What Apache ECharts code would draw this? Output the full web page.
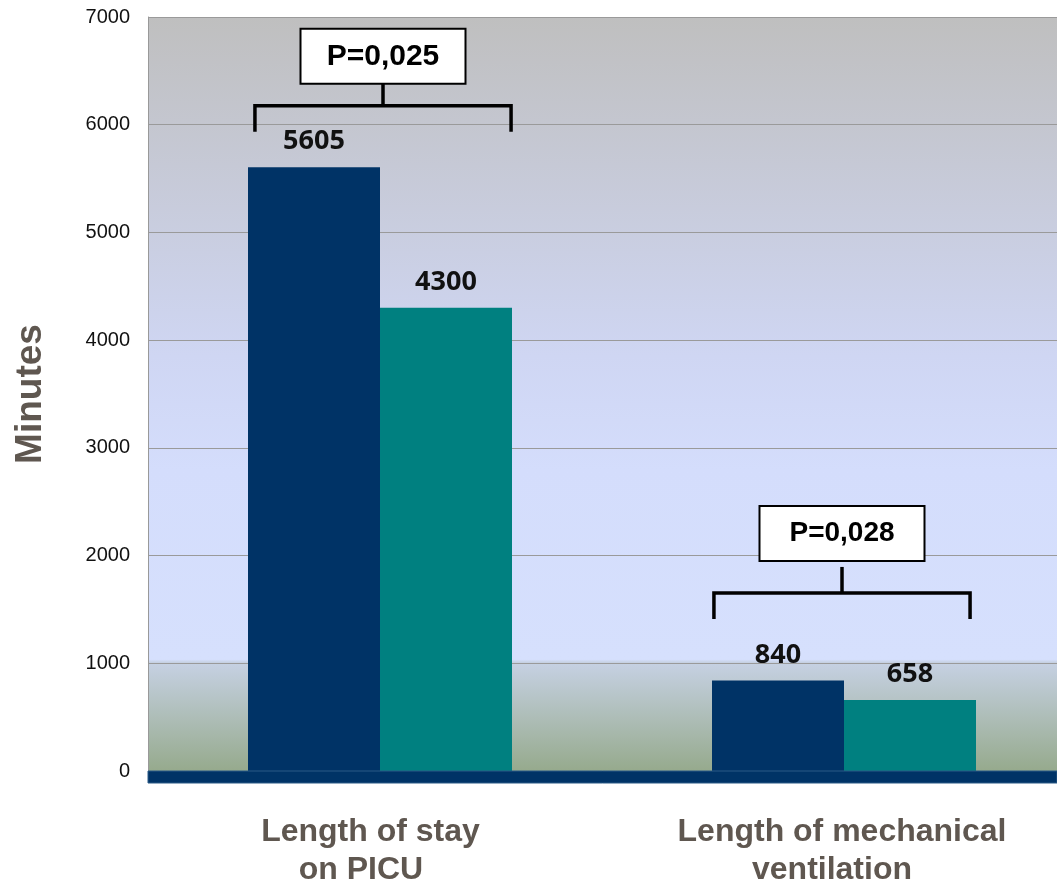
<!DOCTYPE html>
<html>
<head>
<meta charset="utf-8">
<script src="https://cdn.jsdelivr.net/npm/echarts@6/dist/echarts.min.js"></script>
<style>html,body{margin:0;padding:0;background:#fff;}#c{width:1057px;height:881px;}</style>
</head>
<body>
<div id="c"></div>
<script>
const categories = ['Length of stay\non PICU', 'Length of mechanical\nventilation'];
const seriesA = [5605, 840];
const seriesB = [4300, 658];
const pValues = ['P=0,025', 'P=0,028'];
const bracketLevels = [6175, 1653];
const yTicks = [0, 1000, 2000, 3000, 4000, 5000, 6000, 7000];

const labelFont = { fontFamily: 'Liberation Sans, Arial', fontWeight: 'bold', fontSize: 32, lineHeight: 38, color: '#5f5750' };
const rich = {
  p00: Object.assign({ padding: [0, 19, 0, 0] }, labelFont),
  p01: Object.assign({ padding: [0, 38, 0, 0] }, labelFont),
  p10: Object.assign({ padding: [0, 4, 0, 0] }, labelFont),
  p11: Object.assign({ padding: [0, 24, 0, 0] }, labelFont)
};

const chart = echarts.init(document.getElementById('c'));
const valueLabel = {
  show: true, position: 'top', distance: 12,
  fontFamily: 'Open Sans', fontWeight: 'bold', fontSize: 27, color: '#111'
};
chart.setOption({
  animation: false,
  grid: {
    left: 148, right: -19, top: 17, bottom: 110, containLabel: false, outerBoundsMode: 'none',
    show: true, borderWidth: 0,
    backgroundColor: new echarts.graphic.LinearGradient(0, 0, 0, 1, [
      { offset: 0, color: '#bfbfbf' },
      { offset: 0.45, color: '#cfd6f3' },
      { offset: 0.6, color: '#d4ddfc' },
      { offset: 0.852, color: '#d6e0fd' },
      { offset: 0.856, color: '#c6d1e3' },
      { offset: 1, color: '#96aa8d' }
    ])
  },
  xAxis: {
    type: 'category', data: categories,
    axisLine: { show: false },
    axisTick: { show: false },
    axisLabel: Object.assign({
      margin: 42, interval: 0, rich: rich,
      formatter: function (value, idx) {
        return value.split('\n').map(function (l, j) { return '{p' + idx + j + '|' + l + '}'; }).join('\n');
      }
    }, labelFont)
  },
  yAxis: {
    type: 'value', min: yTicks[0], max: yTicks[yTicks.length - 1], interval: 1000,
    name: 'Minutes', nameLocation: 'middle', nameGap: 99, nameRotate: 90,
    nameTextStyle: { fontFamily: 'Liberation Sans, Arial', fontWeight: 'bold', fontSize: 37, color: '#5f5750' },
    axisLine: { show: true, lineStyle: { color: '#999999', width: 1 } },
    axisTick: { show: false },
    axisLabel: { margin: 18, fontFamily: 'Liberation Sans, Arial', fontSize: 20, color: '#111',
      formatter: function (v) { return String(v); } },
    splitLine: { show: true, lineStyle: { color: '#9a9a9a', width: 1 } }
  },
  series: [
    { type: 'bar', data: seriesA, barWidth: 132, barGap: '0%', itemStyle: { color: '#003366' }, label: valueLabel },
    { type: 'bar', data: seriesB, barWidth: 132, barGap: '0%', itemStyle: { color: '#008080' }, label: valueLabel },
    {
      type: 'custom', z: 10,
      data: bracketLevels.map((v, i) => [i, v]),
      renderItem: function (params, api) {
        const c = api.coord([api.value(0), api.value(1)]);
        const band = api.size([1, 0])[0];
        const half = band * 0.276;
        const leg = 26, tick = 26, bw = 165, bh = 55;
        const cx = c[0] + (params.dataIndex === 0 ? 3 : -2), cy = c[1];
        const boxBottom = cy - tick + (params.dataIndex === 0 ? 4 : -6);
        return {
          type: 'group',
          children: [
            { type: 'polyline', shape: { points: [[cx - half, cy + leg], [cx - half, cy], [cx + half, cy], [cx + half, cy + leg]] },
              style: { stroke: '#000', lineWidth: 3.5, fill: null } },
            { type: 'line', shape: { x1: cx, y1: cy, x2: cx, y2: cy - tick }, style: { stroke: '#000', lineWidth: 3.5 } },
            { type: 'rect', shape: { x: cx - bw / 2, y: boxBottom - bh, width: bw, height: bh },
              style: { fill: '#fff', stroke: '#000', lineWidth: 2 } },
            { type: 'text', x: cx, y: boxBottom - bh / 2,
              style: { text: pValues[params.dataIndex], fontFamily: 'Liberation Sans, Arial', fontWeight: 'bold',
                fontSize: params.dataIndex === 0 ? 30 : 28, fill: '#000', align: 'center', verticalAlign: 'middle' } }
          ]
        };
      }
    }
  ]
});
// thick base line sitting just below the zero line of the value axis
const zeroY = chart.convertToPixel({ yAxisIndex: 0 }, 0);
const leftX = chart.convertToPixel({ xAxisIndex: 0 }, 0) - chart.getModel().getComponent('xAxis', 0).axis.getBandWidth() / 2;
chart.setOption({
  graphic: [{
    type: 'rect', z: 5,
    shape: { x: leftX, y: zeroY, width: chart.getWidth() - leftX, height: 12 },
    style: { fill: '#003366', stroke: '#2a5a86', lineWidth: 1 }
  }]
});
</script>
</body>
</html>
